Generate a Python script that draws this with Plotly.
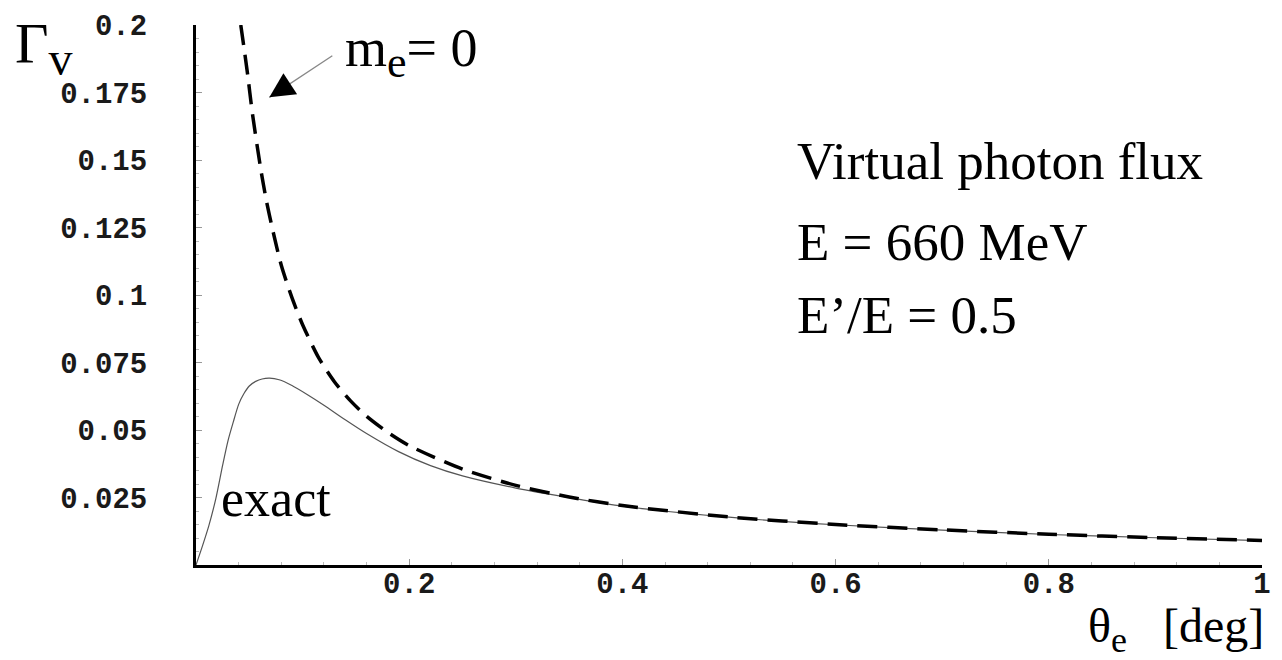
import plotly.graph_objects as go

# Virtual photon flux
theta_massless = [0.042, 0.048, 0.053, 0.061, 0.066, 0.072, 0.080, 0.090, 0.100, 0.115,
                  0.130, 0.145, 0.160, 0.180, 0.200, 0.250, 0.300, 0.350, 0.400, 0.500,
                  0.600, 0.700, 0.800, 0.900, 1.000]
gamma_massless = [0.200, 0.183, 0.167, 0.146, 0.135, 0.124, 0.111, 0.099, 0.089, 0.0768,
                  0.0678, 0.0608, 0.0551, 0.0491, 0.0442, 0.0355, 0.0295, 0.0252, 0.0220, 0.0178,
                  0.0150, 0.0130, 0.0114, 0.0101, 0.0091]

theta_exact = [0.000, 0.006, 0.012, 0.0186, 0.025, 0.030, 0.035, 0.040, 0.045, 0.050,
               0.056, 0.062, 0.069, 0.078, 0.090, 0.105, 0.120, 0.140, 0.160, 0.190,
               0.220, 0.250, 0.300, 0.350, 0.400, 0.500, 0.600, 0.700, 0.800, 0.900, 1.000]
gamma_exact = [0.000, 0.007, 0.0145, 0.0246, 0.037, 0.046, 0.053, 0.0595, 0.0635, 0.0663,
               0.068, 0.0689, 0.0692, 0.0686, 0.0665, 0.063, 0.0592, 0.0538, 0.0487, 0.042,
               0.0368, 0.0330, 0.0285, 0.0250, 0.0218, 0.0177, 0.0149, 0.0129, 0.0113, 0.0101, 0.0090]

x_tickvals = [0.2, 0.4, 0.6, 0.8, 1.0]
x_ticktext = ["0.2", "0.4", "0.6", "0.8", "1"]
y_tickvals = [0.025, 0.05, 0.075, 0.1, 0.125, 0.15, 0.175, 0.2]
y_ticktext = ["0.025", "0.05", "0.075", "0.1", "0.125", "0.15", "0.175", "0.2"]

SERIF = "Liberation Serif, Times New Roman, serif"
MONO = "Liberation Mono, Courier New, monospace"

fig = go.Figure()
fig.add_trace(go.Scatter(x=theta_exact, y=gamma_exact, mode="lines",
                         line=dict(color="#555555", width=1.2, shape="spline", smoothing=0.7),
                         showlegend=False, hoverinfo="skip"))
fig.add_trace(go.Scatter(x=theta_massless, y=gamma_massless, mode="lines",
                         line=dict(color="black", width=3.5, dash="20px,10px", shape="spline", smoothing=0.7),
                         showlegend=False, hoverinfo="skip"))

axis_common = dict(showgrid=False, zeroline=False, showline=True, linecolor="black", linewidth=3,
                   ticks="inside", ticklen=6, tickwidth=1, tickcolor="#999999",
                   tickfont=dict(family=MONO, size=29, color="#1a1a1a", weight="bold"))

fig.update_xaxes(range=[0, 1], tickvals=x_tickvals, ticktext=x_ticktext,
                 minor=dict(dtick=0.04, tick0=0, ticks="inside", ticklen=3, tickcolor="#bbbbbb"),
                 ticklabelstandoff=-10, **axis_common)
fig.update_yaxes(range=[0, 0.2], tickvals=y_tickvals, ticktext=y_ticktext,
                 minor=dict(dtick=0.005, tick0=0, ticks="inside", ticklen=3, tickcolor="#bbbbbb"),
                 ticklabelstandoff=40, **axis_common)

annots = [
    dict(text="Virtual photon flux", x=0.562, y=0.1495, size=53),
    dict(text="E = 660 MeV", x=0.562, y=0.1196, size=53),
    dict(text="E’/E = 0.5", x=0.562, y=0.0925, size=53),
    dict(text="exact", x=0.022, y=0.0246, size=52),
    dict(text="m<sub><span style='font-size:44px'>e</span></sub>= 0", x=0.138, y=0.190, size=54),
]
for a in annots:
    fig.add_annotation(text=a["text"], x=a["x"], y=a["y"], xref="x", yref="y",
                       xanchor="left", yanchor="middle", showarrow=False,
                       font=dict(family=SERIF, size=a["size"], color="black"))

fig.add_annotation(text="Γ<sub><span style='font-size:48px'>v</span></sub>", x=-0.172, y=0.958,
                   xref="paper", yref="paper", xanchor="left", yanchor="middle", showarrow=False,
                   font=dict(family=SERIF, size=58, color="black"))
fig.add_annotation(text="θ<sub><span style='font-size:36px'>e</span></sub>&nbsp;&nbsp;&nbsp;[deg]",
                   x=1.004, y=-0.12, xref="paper", yref="paper",
                   xanchor="right", yanchor="middle", showarrow=False,
                   font=dict(family=SERIF, size=48, color="black"))

# arrow: grey shaft plus dark head
fig.add_annotation(x=0.0688, y=0.1732, ax=0.1293, ay=0.1890, xref="x", yref="y",
                   axref="x", ayref="y", text="", showarrow=True, arrowhead=0,
                   arrowwidth=1.3, arrowcolor="#888888")
fig.add_annotation(x=0.0688, y=0.1732, ax=0.0870, ay=0.1779, xref="x", yref="y",
                   axref="x", ayref="y", text="", showarrow=True, arrowhead=2,
                   arrowsize=2.5, arrowwidth=2, arrowcolor="black", standoff=0)

fig.update_layout(width=1282, height=660, margin=dict(l=196, r=11, t=20, b=95),
                  plot_bgcolor="white", paper_bgcolor="white")

fig.write_html("out.html")
